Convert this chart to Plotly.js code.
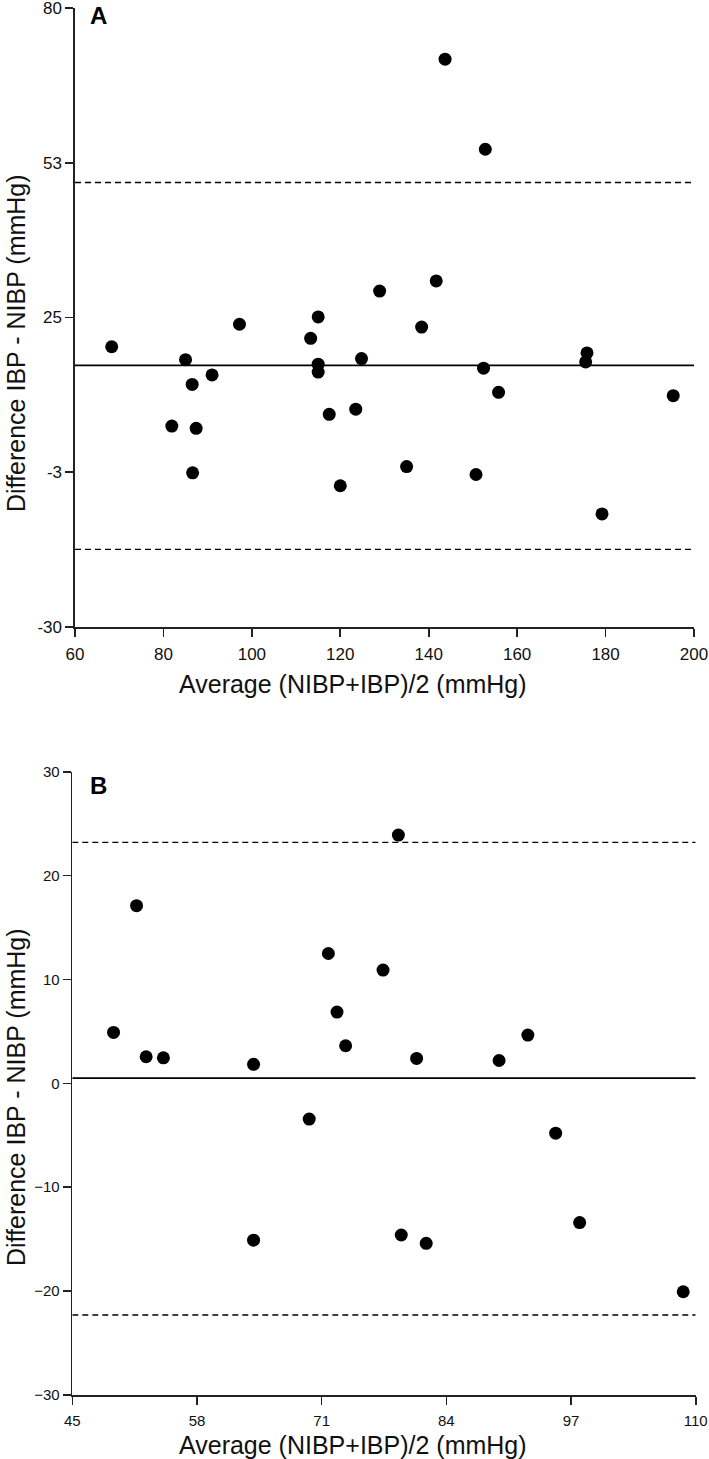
<!DOCTYPE html>
<html>
<head>
<meta charset="utf-8">
<script src="https://cdn.plot.ly/plotly-3.0.1.min.js"></script>
<style>html,body{margin:0;padding:0;background:#fff;}#chart{width:709px;height:1459px;}</style>
</head>
<body>
<div id="chart"></div>
<script>
// Panel A (systolic) data
const aAverage = [68.3, 85.0, 97.2, 115.0, 113.3, 86.5, 91.0, 81.9, 87.4, 86.6, 115.0, 115.0, 117.5, 120.0, 123.5, 124.8, 152.4, 155.8, 175.8, 175.5, 195.3, 135.0, 150.7, 179.2, 143.7, 152.8, 128.9, 141.7, 138.4];
const aDifference = [19.8, 17.5, 23.8, 25.1, 21.3, 13.1, 14.8, 5.7, 5.3, -2.6, 16.7, 15.3, 7.8, -4.9, 8.7, 17.7, 16.0, 11.7, 18.7, 17.1, 11.1, -1.5, -2.9, -9.9, 70.9, 54.9, 29.7, 31.5, 23.3];
const aMean = 16.5, aUpper = 49.0, aLower = -16.2;
const aXRange = [60, 200];
const aYRange = [-30, 80];
const aXTicks = [60, 80, 100, 120, 140, 160, 180, 200];
const aYTickVals = [80, 52.5, 25, -2.5, -30];
const aYTickText = ["80", "53", "25", "-3", "-30"];

// Panel B (mean) data
const bAverage = [51.7, 49.3, 52.7, 54.5, 63.9, 71.7, 72.6, 73.5, 79.0, 77.4, 80.9, 89.5, 92.5, 69.7, 63.9, 95.4, 97.9, 79.3, 81.9, 108.7];
const bDifference = [17.1, 4.9, 2.56, 2.46, 1.83, 12.5, 6.86, 3.62, 23.9, 10.9, 2.4, 2.2, 4.65, -3.44, -15.1, -4.8, -13.4, -14.6, -15.4, -20.06];
const bMean = 0.5, bUpper = 23.2, bLower = -22.3;
const bXRange = [45, 110];
const bYRange = [-30, 30];
const bXTicks = [45, 58, 71, 84, 97, 110];
const bYTicks = [30, 20, 10, 0, -10, -20, -30];

const xTitle = "Average (NIBP+IBP)/2 (mmHg)";
const yTitle = "Difference IBP - NIBP (mmHg)";
const panelLabels = ["A", "B"];

const W = 709, H = 1459;
const tickFamily = "'Liberation Sans Narrow', 'Liberation Sans', Arial, sans-serif";
const tickFontA = {family: tickFamily, size: 17, color: "#111"};
const tickFontB = {family: tickFamily, size: 15, color: "#111"};
const titleFont = {family: "'Liberation Sans', Arial, sans-serif", size: 25, color: "#111"};
const labelFont = {family: "'Liberation Sans', Arial, sans-serif", size: 24, color: "#000"};

function refLine(xr, y, dash, xa, ya) {
  return {x: xr, y: [y, y], mode: "lines", xaxis: xa, yaxis: ya, hoverinfo: "skip",
    line: {color: "#000", width: dash === "solid" ? 1.6 : 1.4, dash: dash}, showlegend: false};
}
const dashPat = "6px,4px";

const traces = [
  refLine(aXRange, aMean, "solid", "x", "y"),
  refLine(aXRange, aUpper, dashPat, "x", "y"),
  refLine(aXRange, aLower, dashPat, "x", "y"),
  {x: aAverage, y: aDifference, mode: "markers", xaxis: "x", yaxis: "y", showlegend: false,
    marker: {color: "#000", size: 13}},
  refLine(bXRange, bMean, "solid", "x2", "y2"),
  refLine(bXRange, bUpper, dashPat, "x2", "y2"),
  refLine(bXRange, bLower, dashPat, "x2", "y2"),
  {x: bAverage, y: bDifference, mode: "markers", xaxis: "x2", yaxis: "y2", showlegend: false,
    marker: {color: "#000", size: 13}}
];

function axisBase(font) {
  return {showline: true, linecolor: "#222", linewidth: 1.6, showgrid: false, zeroline: false,
    ticks: "outside", ticklen: 8, tickwidth: 1.6, tickcolor: "#222", tickfont: font,
    ticklabeloverflow: "allow", fixedrange: true};
}

const layout = {
  width: W, height: H,
  margin: {l: 0, r: 0, t: 0, b: 0},
  paper_bgcolor: "#fff", plot_bgcolor: "#fff",
  showlegend: false,
  xaxis: Object.assign(axisBase(tickFontA), {domain: [75 / W, 694 / W], range: [aXRange[0] - 1e-4, aXRange[1] + 1e-4], anchor: "y",
    tickmode: "array", tickvals: aXTicks, ticklabelstandoff: 3}),
  yaxis: Object.assign(axisBase(tickFontA), {domain: [1 - 627 / H, 1 - 8 / H], range: [aYRange[0] - 1e-4, aYRange[1] + 1e-4], anchor: "x",
    tickmode: "array", tickvals: aYTickVals, ticktext: aYTickText}),
  xaxis2: Object.assign(axisBase(tickFontB), {domain: [72.3 / W, 695.7 / W], range: [bXRange[0] - 1e-4, bXRange[1] + 1e-4], anchor: "y2",
    tickmode: "array", tickvals: bXTicks, ticklabelstandoff: 3}),
  yaxis2: Object.assign(axisBase(tickFontB), {domain: [1 - 1395 / H, 1 - 771.7 / H], range: [bYRange[0] - 1e-4, bYRange[1] + 1e-4], anchor: "x2",
    tickmode: "array", tickvals: bYTicks}),
  annotations: [
    {text: "<b>" + panelLabels[0] + "</b>", xref: "paper", yref: "paper", x: 98.7 / W, y: 1 - 16 / H,
      xanchor: "center", yanchor: "middle", showarrow: false, font: labelFont},
    {text: "<b>" + panelLabels[1] + "</b>", xref: "paper", yref: "paper", x: 98.7 / W, y: 1 - 785 / H,
      xanchor: "center", yanchor: "middle", showarrow: false, font: labelFont},
    {text: xTitle, xref: "paper", yref: "paper", x: 353 / W, y: 1 - 684 / H,
      xanchor: "center", yanchor: "middle", showarrow: false, font: titleFont},
    {text: yTitle, xref: "paper", yref: "paper", x: 16 / W, y: 1 - 343 / H, textangle: -90,
      xanchor: "center", yanchor: "middle", showarrow: false, font: titleFont},
    {text: xTitle, xref: "paper", yref: "paper", x: 353 / W, y: 1 - 1445 / H,
      xanchor: "center", yanchor: "middle", showarrow: false, font: titleFont},
    {text: yTitle, xref: "paper", yref: "paper", x: 16 / W, y: 1 - 1097 / H, textangle: -90,
      xanchor: "center", yanchor: "middle", showarrow: false, font: titleFont}
  ]
};

Plotly.newPlot("chart", traces, layout, {displayModeBar: false, staticPlot: true});
</script>
</body>
</html>
